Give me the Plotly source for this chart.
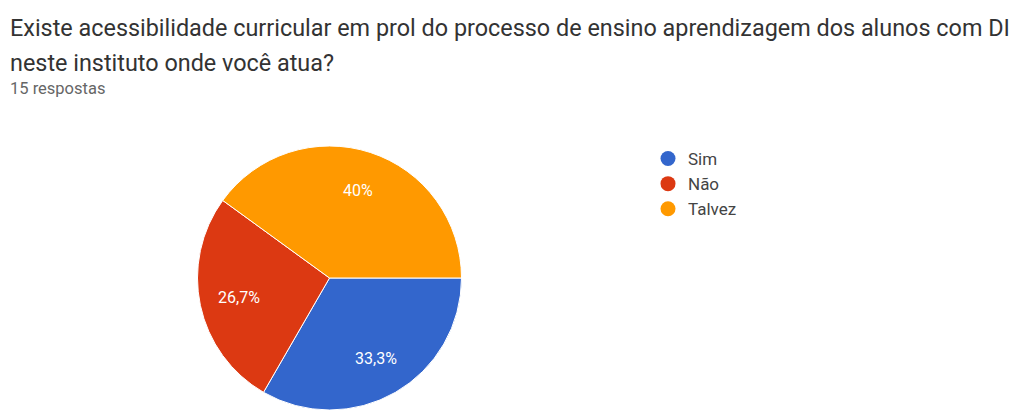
import math
import plotly.graph_objects as go

labels = ["Sim", "Não", "Talvez"]
values = [5, 4, 6]
colors = ["#3366cc", "#dc3912", "#ff9900"]
title_lines = ["Existe acessibilidade curricular em prol do processo de ensino aprendizagem dos alunos com DI",
               "neste instituto onde você atua?"]
subtitle_text = "15 respostas"

W, H = 1022, 410
cx, cy, r = 329.5, 278, 132
label_r = 0.7

fig = go.Figure()
fig.add_trace(go.Pie(
    labels=labels, values=values, sort=False, direction="clockwise", rotation=90,
    marker=dict(colors=colors, line=dict(color="white", width=1)),
    textinfo="none", hoverinfo="label+percent",
    showlegend=False,
    domain=dict(x=[(cx - r) / W, (cx + r) / W],
                y=[max(0.0, (H - cy - r) / H), min(1.0, (H - cy + r) / H)]),
))
for lab, col in zip(labels, colors):
    fig.add_trace(go.Scatter(x=[None], y=[None], mode="markers", name=lab,
                             marker=dict(symbol="circle", size=15, color=col)))

title_y = [28, 63]
annotations = [
    dict(text=t, x=8 / W, y=1 - yy / H, xref="paper", yref="paper",
         xanchor="left", yanchor="middle", showarrow=False, align="left",
         font=dict(size=23.4, color="#333333", family="Roboto"))
    for t, yy in zip(title_lines, title_y)
]
annotations.append(
    dict(text=subtitle_text, x=8 / W, y=1 - 89 / H, xref="paper", yref="paper",
         xanchor="left", yanchor="middle", showarrow=False, align="left",
         font=dict(size=16.5, color="#666666", family="Roboto")))

# slice labels placed at 70% of the radius, at each slice's mid-angle
total = sum(values)
start = 0.0  # degrees clockwise from 3 o'clock
for v in values:
    sweep = 360.0 * v / total
    mid = math.radians(start + sweep / 2)
    px = cx + label_r * r * math.cos(mid)
    py = cy + label_r * r * math.sin(mid)
    pct = f"{100.0 * v / total:.3g}".replace(".", ",") + "%"
    annotations.append(dict(text=pct, x=px / W, y=1 - py / H, xref="paper", yref="paper",
                            xanchor="center", yanchor="middle", showarrow=False,
                            font=dict(size=16, color="white", family="Roboto")))
    start += sweep

fig.update_layout(
    width=W, height=H, margin=dict(l=0, r=0, t=0, b=0),
    paper_bgcolor="white", plot_bgcolor="white",
    font=dict(family="Roboto", color="#202124"),
    xaxis=dict(visible=False), yaxis=dict(visible=False),
    legend=dict(x=648 / W, y=1 - 141 / H, xanchor="left", yanchor="top",
                font=dict(size=17, color="#444"), tracegroupgap=0,
                itemsizing="trace", bgcolor="rgba(0,0,0,0)"),
    annotations=annotations,
)
fig.write_html("out.html")
